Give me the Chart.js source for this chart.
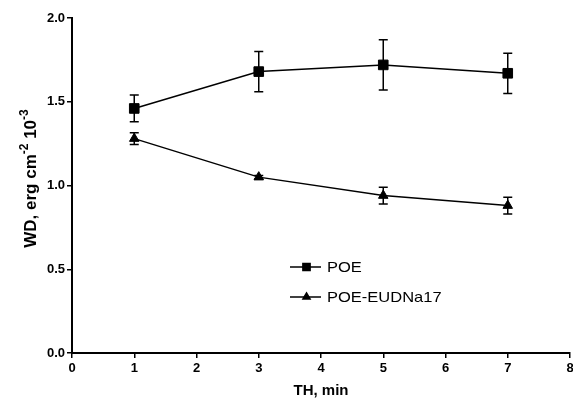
<!DOCTYPE html>
<html>
<head>
<meta charset="utf-8">
<script src="https://cdn.jsdelivr.net/npm/chart.js@4.4.1/dist/chart.umd.min.js"></script>
<style>
  html, body { margin: 0; padding: 0; background: #fff; }
  #wrap { width: 573px; height: 405px; }
</style>
</head>
<body>
<div id="wrap"><canvas id="wd-chart" width="573" height="405"></canvas></div>
<script>
// values
const times = [1, 3, 5, 7];
const poeValues = [1.46, 1.68, 1.72, 1.67];
const poeErrors = [0.08, 0.12, 0.15, 0.12];
const eudValues = [1.28, 1.05, 0.94, 0.88];
const eudErrors = [0.035, 0.01, 0.05, 0.05];
const xTicks = [0, 1, 2, 3, 4, 5, 6, 7, 8];
const yTicks = [0, 0.5, 1.0, 1.5, 2.0];

const toPoints = (ys) => times.map((t, i) => ({ x: t, y: ys[i] }));

// error bars drawn through the scales
const errorBars = {
  id: 'errorBars',
  afterDatasetsDraw(chart) {
    const { ctx, scales: { x, y } } = chart;
    ctx.save();
    ctx.strokeStyle = '#000';
    ctx.lineWidth = 1.5;
    chart.data.datasets.forEach((ds) => {
      ds.data.forEach((p, i) => {
        const err = ds.errors[i];
        const px = x.getPixelForValue(p.x);
        const top = y.getPixelForValue(p.y + err);
        const bot = y.getPixelForValue(p.y - err);
        ctx.beginPath();
        ctx.moveTo(px, top); ctx.lineTo(px, bot);
        ctx.moveTo(px - 4.5, top); ctx.lineTo(px + 4.5, top);
        ctx.moveTo(px - 4.5, bot); ctx.lineTo(px + 4.5, bot);
        ctx.stroke();
      });
    });
    ctx.restore();
  }
};

// y title with superscripts
const yTitle = {
  id: 'yTitle',
  afterDraw(chart) {
    const { ctx, chartArea } = chart;
    const parts = [
      { t: 'WD, erg cm', sup: false },
      { t: '-2', sup: true },
      { t: ' 10', sup: false },
      { t: '-3', sup: true }
    ];
    const main = 'bold 17px "Liberation Sans", Arial, sans-serif';
    const small = 'bold 12px "Liberation Sans", Arial, sans-serif';
    ctx.save();
    let total = 0;
    parts.forEach((p) => { ctx.font = p.sup ? small : main; p.w = ctx.measureText(p.t).width; total += p.w; });
    ctx.translate(36, (chartArea.top + chartArea.bottom) / 2 - 7);
    ctx.rotate(-Math.PI / 2);
    ctx.fillStyle = '#000';
    ctx.textBaseline = 'alphabetic';
    let cx = -total / 2;
    parts.forEach((p) => {
      ctx.font = p.sup ? small : main;
      ctx.fillText(p.t, cx, p.sup ? -8 : 0);
      cx += p.w;
    });
    ctx.restore();
  }
};

// legend inside the plot
const innerLegend = {
  id: 'innerLegend',
  afterDraw(chart) {
    const { ctx } = chart;
    const x0 = 290, x1 = 321, rows = [267, 297];
    ctx.save();
    chart.data.datasets.forEach((ds, i) => {
      const yy = rows[i];
      ctx.strokeStyle = '#000';
      ctx.lineWidth = 1.5;
      ctx.beginPath(); ctx.moveTo(x0, yy); ctx.lineTo(x1, yy); ctx.stroke();
      ctx.fillStyle = '#000';
      Chart.helpers.drawPoint(ctx, {
        pointStyle: ds.pointStyle, radius: ds.pointRadius * 0.75, borderWidth: 1, rotation: 0
      }, (x0 + x1) / 2 + 1, yy);
      ctx.fillStyle = '#000';
      ctx.font = '15px "Liberation Sans", Arial, sans-serif';
      ctx.textBaseline = 'middle';
      ctx.save();
      ctx.translate(327, yy);
      ctx.scale(1.1, 1);
      ctx.fillText(ds.label, 0, 1);
      ctx.restore();
    });
    ctx.restore();
  }
};

new Chart(document.getElementById('wd-chart'), {
  type: 'line',
  data: {
    datasets: [
      {
        label: 'POE',
        data: toPoints(poeValues),
        errors: poeErrors,
        borderColor: '#000',
        backgroundColor: '#000',
        borderWidth: 1.5,
        pointStyle: 'rect',
        pointRadius: 6.8,
        pointBorderWidth: 1
      },
      {
        label: 'POE-EUDNa17',
        data: toPoints(eudValues),
        errors: eudErrors,
        borderColor: '#000',
        backgroundColor: '#000',
        borderWidth: 1.5,
        pointStyle: 'triangle',
        pointRadius: 5.5,
        pointBorderWidth: 1
      }
    ]
  },
  options: {
    responsive: false,
    animation: false,
    layout: { autoPadding: false, padding: { top: 18, right: 3, left: 0, bottom: 0 } },
    plugins: {
      legend: { display: false },
      tooltip: { enabled: false }
    },
    scales: {
      x: {
        type: 'linear',
        min: 0,
        max: 8,
        afterFit: (s) => { s.height = 52; s.paddingRight = 0; s.paddingLeft = 0; },
        afterBuildTicks: (s) => { s.ticks = xTicks.map((v) => ({ value: v })); },
        ticks: {
          color: '#000',
          padding: 3,
          font: { family: '"Liberation Sans", Arial, sans-serif', size: 13, weight: 'bold' }
        },
        grid: { drawOnChartArea: false, tickLength: 5, color: '#000', lineWidth: 1.5 },
        border: { color: '#000', width: 2 },
        title: {
          display: true,
          text: 'TH, min',
          color: '#000',
          padding: { top: 4, bottom: 5 },
          font: { family: '"Liberation Sans", Arial, sans-serif', size: 15, weight: 'bold' }
        }
      },
      y: {
        min: 0,
        max: 2,
        afterFit: (s) => { s.width = 72; s.paddingTop = 0; s.paddingBottom = 0; },
        afterBuildTicks: (s) => { s.ticks = yTicks.map((v) => ({ value: v })); },
        ticks: {
          color: '#000',
          padding: 2,
          callback: (v) => v.toFixed(1),
          font: { family: '"Liberation Sans", Arial, sans-serif', size: 13, weight: 'bold' }
        },
        grid: { drawOnChartArea: false, tickLength: 5, color: '#000', lineWidth: 1.5 },
        border: { color: '#000', width: 2 }
      }
    }
  },
  plugins: [errorBars, yTitle, innerLegend]
});
</script>
</body>
</html>
